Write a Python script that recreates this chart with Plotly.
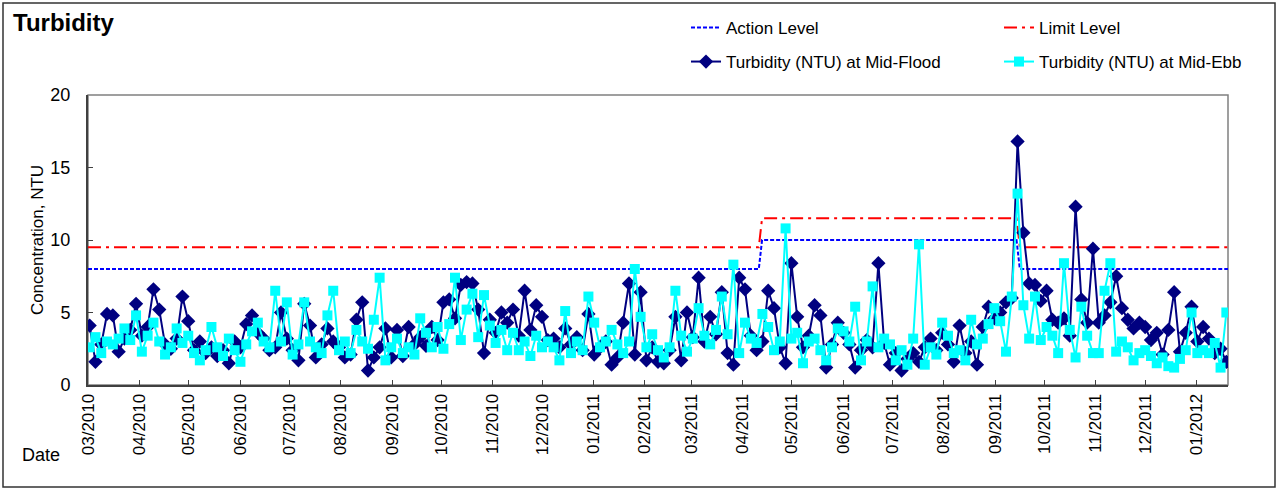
import pandas as pd
import plotly.graph_objects as go

# ---------------- data ----------------
flood = [
    4.1, 1.6, 2.8, 4.9, 4.8, 2.3, 3.2, 3.8, 5.6, 3.4,
    4.0, 6.6, 5.2, 2.8, 2.5, 3.2, 6.1, 4.4, 2.4, 3.0,
    2.2, 2.6, 2.0, 2.4, 1.5, 3.0, 2.6, 4.2, 4.8, 3.6,
    3.2, 2.4, 2.6, 5.0, 3.2, 2.4, 1.7, 5.6, 4.1, 1.9,
    2.8, 3.9, 3.0, 2.6, 1.9, 2.1, 4.5, 5.7, 1.0, 1.9,
    2.6, 3.9, 1.9, 3.8, 2.0, 4.0, 2.8, 3.3, 2.7, 4.0,
    3.1, 5.7, 5.9, 4.6, 6.9, 7.1, 7.0, 5.2, 2.2, 4.5,
    3.6, 5.0, 4.3, 5.2, 3.4, 6.5, 3.8, 5.5, 4.7, 3.1,
    3.2, 2.6, 3.9, 2.8, 3.3, 2.4, 4.9, 2.1, 2.6, 3.0,
    1.4, 1.9, 4.3, 7.0, 2.1, 6.4, 1.7, 2.6, 1.6, 1.5,
    2.4, 4.7, 1.7, 5.0, 3.3, 7.4, 3.0, 4.7, 3.5, 6.4,
    2.2, 1.4, 7.4, 6.6, 3.4, 2.4, 3.0, 6.5, 5.3, 2.6,
    1.5, 8.4, 4.7, 2.6, 3.4, 5.5, 4.8, 1.2, 2.8, 4.3,
    3.6, 2.8, 1.2, 2.4, 3.1, 2.6, 8.4, 2.9, 1.4, 2.2,
    1.0, 1.8, 2.2, 1.6, 2.6, 3.2, 2.4, 3.6, 2.8, 1.6,
    4.1, 2.2, 3.0, 1.4, 4.0, 5.4, 4.6, 5.0, 5.7, 6.0,
    16.8, 10.5, 7.0, 6.9, 5.8, 6.5, 4.5, 4.3, 4.6, 3.4,
    12.3, 5.9, 4.3, 9.4, 4.3, 4.8, 5.7, 7.5, 5.3, 4.5,
    3.9, 4.3, 4.0, 3.1, 3.6, 2.1, 3.8, 6.4, 2.3, 3.6,
    5.4, 3.0, 4.0, 3.2, 2.2, 2.5, 1.6,
]
ebb = [
    2.6, 3.3, 2.2, 3.0, 2.8, 3.2, 3.9, 3.1, 4.8, 2.3,
    3.4, 4.3, 3.0, 2.1, 2.6, 3.9, 2.9, 3.4, 2.2, 1.7,
    2.4, 4.0, 2.6, 2.0, 3.2, 2.4, 1.6, 2.8, 3.7, 4.3,
    3.0, 2.6, 6.5, 3.0, 5.7, 2.1, 2.8, 5.7, 3.0, 2.6,
    2.2, 4.8, 6.5, 2.4, 3.0, 2.2, 3.8, 3.0, 2.5, 4.5,
    7.4, 1.7, 2.6, 3.2, 2.2, 2.6, 2.1, 4.6, 3.6, 2.6,
    4.0, 2.5, 4.2, 7.4, 3.1, 5.2, 6.3, 3.3, 6.2, 4.1,
    2.9, 3.8, 2.4, 3.6, 2.4, 3.0, 2.0, 3.4, 2.6, 3.0,
    2.6, 1.7, 5.1, 2.2, 3.0, 2.4, 6.1, 4.3, 2.6, 3.0,
    3.8, 2.8, 2.2, 3.0, 8.0, 4.7, 2.6, 3.5, 2.4, 1.9,
    2.6, 6.5, 3.4, 2.3, 3.2, 5.3, 3.4, 2.8, 3.8, 6.1,
    3.5, 8.3, 2.2, 4.3, 3.2, 2.9, 4.9, 4.0, 2.4, 3.0,
    10.8, 3.2, 3.6, 1.5, 3.0, 3.2, 2.4, 1.7, 2.6, 3.9,
    3.7, 3.0, 5.4, 1.7, 3.0, 6.8, 2.6, 3.2, 2.8, 1.7,
    2.4, 1.4, 3.2, 9.7, 1.4, 2.6, 2.1, 4.3, 3.4, 2.2,
    2.4, 1.7, 4.5, 2.8, 3.2, 4.2, 5.3, 4.4, 2.3, 6.1,
    13.2, 5.5, 3.2, 6.1, 3.1, 4.0, 3.4, 2.2, 8.4, 3.8,
    1.9, 5.4, 3.4, 2.2, 2.2, 6.5, 8.4, 2.3, 3.0, 2.6,
    1.7, 2.2, 2.4, 2.0, 1.5, 1.9, 1.3, 1.2, 1.8, 2.4,
    5.0, 2.2, 2.4, 2.2, 2.9, 1.2, 5.0,
]
sample_start = "2010-03-02"
sample_end = "2012-01-19"
dates = pd.date_range(sample_start, sample_end, periods=len(flood))

level_dates = ["2010-03-01", "2011-04-11", "2011-04-13", "2011-09-14", "2011-09-16", "2012-01-20"]
action_level = [8, 8, 10, 10, 8, 8]
limit_level = [9.5, 9.5, 11.5, 11.5, 9.5, 9.5]

tick_dates = pd.date_range("2010-03-01", "2012-01-01", freq="MS")
tick_labels = [d.strftime("%m/%Y") for d in tick_dates]

FONT = "Liberation Sans, Arial, sans-serif"

fig = go.Figure()
fig.add_trace(go.Scatter(
    x=level_dates, y=action_level, mode="lines", name="Action Level",
    line=dict(color="#0000FF", width=2, dash="4px,2px"), legend="legend",
))
fig.add_trace(go.Scatter(
    x=level_dates, y=limit_level, mode="lines", name="Limit Level",
    line=dict(color="#FF0000", width=2, dash="13px,5px,3px,5px"), legend="legend2",
))
fig.add_trace(go.Scatter(
    x=dates, y=flood, mode="lines+markers", name="Turbidity (NTU) at Mid-Flood",
    line=dict(color="#000080", width=2),
    marker=dict(symbol="diamond", size=11, color="#000080"), legend="legend3",
))
fig.add_trace(go.Scatter(
    x=dates, y=ebb, mode="lines+markers", name="Turbidity (NTU) at Mid-Ebb",
    line=dict(color="#00FFFF", width=2),
    marker=dict(symbol="square", size=10, color="#00FFFF"), legend="legend4",
))

W, H = 1278, 490
L, R, T, B = 88, 50, 95, 105
pw, ph = W - L - R, H - T - B


def px(x):
    return (x - L) / pw


def py(y):
    return (H - B - y) / ph


legend_common = dict(
    orientation="h", xanchor="left", yanchor="middle",
    font=dict(family=FONT, size=17, color="#000000"),
    bgcolor="rgba(0,0,0,0)", itemclick=False, borderwidth=0,
)

fig.update_layout(
    width=W, height=H,
    margin=dict(l=L, r=R, t=T, b=B, autoexpand=False),
    paper_bgcolor="white", plot_bgcolor="white",
    font=dict(family=FONT, color="#000000"),
    showlegend=True,
    legend=dict(x=px(686), y=py(28), **legend_common),
    legend2=dict(x=px(999), y=py(28), **legend_common),
    legend3=dict(x=px(686), y=py(62), **legend_common),
    legend4=dict(x=px(999), y=py(62), **legend_common),
    xaxis=dict(
        type="date", range=["2010-03-01", "2012-01-20"],
        tickvals=tick_dates, ticktext=tick_labels, tickangle=-90,
        tickfont=dict(family=FONT, size=17),
        ticks="inside", ticklen=5, tickcolor="#404040",
        showline=True, linecolor="#404040", linewidth=2,
        showgrid=False, zeroline=False,
    ),
    yaxis=dict(
        range=[0, 20], tickvals=[0, 5, 10, 15, 20],
        tickfont=dict(family=FONT, size=18),
        ticks="inside", ticklen=5, tickcolor="#404040",
        ticklabelstandoff=12,
        showline=True, linecolor="#404040", linewidth=2,
        showgrid=False, zeroline=False,
        title=dict(text="Concentration, NTU", font=dict(family=FONT, size=17), standoff=2),
    ),
    shapes=[
        dict(type="rect", xref="paper", yref="paper", x0=0, x1=1, y0=0, y1=1,
             line=dict(color="#808080", width=1.5), layer="below"),
        dict(type="rect", xref="paper", yref="paper",
             x0=px(3), x1=px(1275), y0=py(487), y1=py(3),
             line=dict(color="#333333", width=1.5), layer="below"),
    ],
    annotations=[
        dict(text="<b>Turbidity</b>", xref="paper", yref="paper", x=px(11), y=py(22),
             xanchor="left", yanchor="middle", showarrow=False,
             font=dict(family=FONT, size=24)),
        dict(text="Date", xref="paper", yref="paper", x=px(41), y=py(455),
             xanchor="center", yanchor="middle", showarrow=False,
             font=dict(family=FONT, size=18)),
    ],
)

fig.write_html(
    "out.html",
    config={"displayModeBar": False},
    post_script="document.body.style.margin='0px';",
)
